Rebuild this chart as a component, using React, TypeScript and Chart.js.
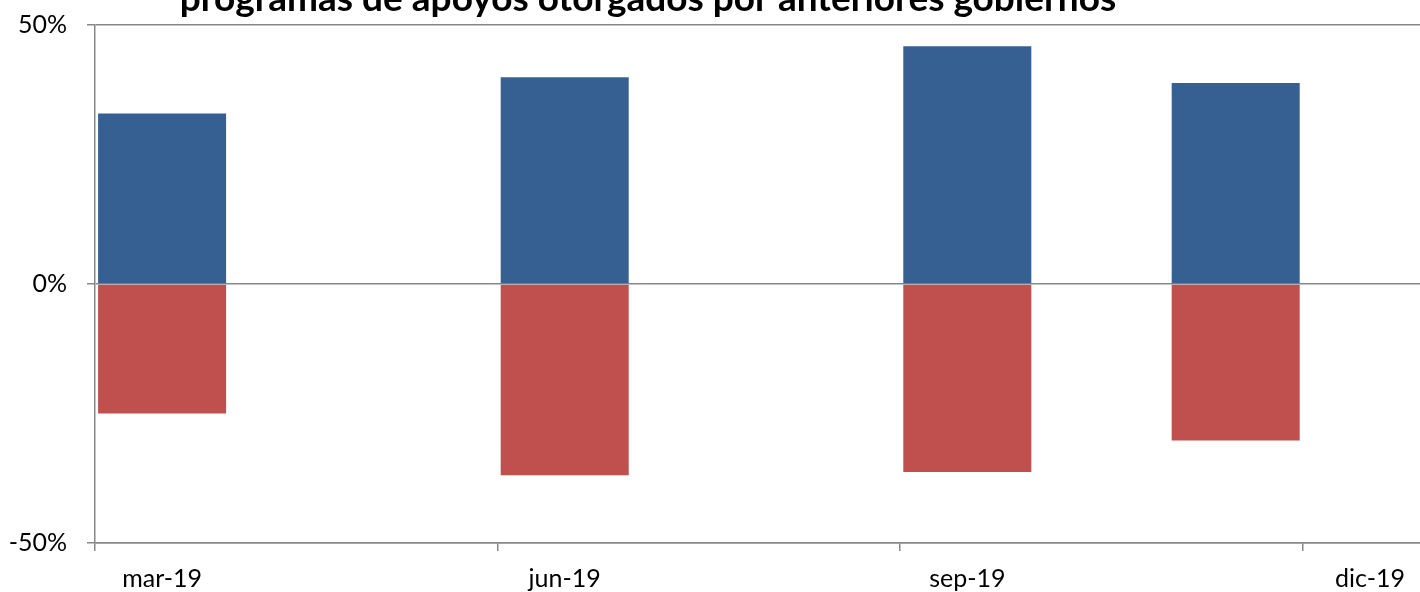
import React, { useEffect, useRef } from "react";
import { Chart, registerables } from "chart.js";

Chart.register(...registerables);

const TITLE = "programas de apoyos otorgados por anteriores gobiernos";
const MONTHS = ["mar-19", "abr-19", "may-19", "jun-19", "jul-19", "ago-19", "sep-19", "oct-19", "nov-19", "dic-19"];
const LABELED = ["mar-19", "jun-19", "sep-19", "dic-19"];
const POSITIVE = [32.9, null, null, 39.9, null, null, 45.9, null, 38.8, null];
const NEGATIVE = [-25.0, null, null, -36.9, null, null, -36.3, null, -30.2, null];
const Y_TICKS = [-50, 0, 50];

const FONT = "Lato, 'Liberation Sans', sans-serif";
const GRID = "#888888";

const titlePlugin = {
  id: "clippedTitle",
  afterDraw(chart: any) {
    const ctx = chart.ctx;
    ctx.save();
    ctx.font = `bold 37px ${FONT}`;
    ctx.fillStyle = "#000";
    ctx.textAlign = "center";
    ctx.textBaseline = "alphabetic";
    ctx.fillText(TITLE, 648, 11);
    ctx.restore();
  },
};

export default function App() {
  const ref = useRef<HTMLCanvasElement | null>(null);
  useEffect(() => {
    if (!ref.current) return;
    const chart = new Chart(ref.current, {
      type: "bar",
      data: {
        labels: MONTHS,
        datasets: [
          { label: "a", data: POSITIVE as any, backgroundColor: "#376092", barPercentage: 1, categoryPercentage: 0.954 },
          { label: "b", data: NEGATIVE as any, backgroundColor: "#C0504D", barPercentage: 1, categoryPercentage: 0.954 },
        ],
      },
      plugins: [titlePlugin],
      options: {
        responsive: false,
        animation: false,
        layout: { padding: { left: 0, right: 3, top: 25, bottom: 0 } },
        font: { family: FONT },
        plugins: {
          legend: { display: false },
          tooltip: { enabled: false },
          title: { display: false },
        },
        scales: {
          x: {
            stacked: true,
            offset: true,
            afterFit: (s: any) => { s.height = 49; s.paddingLeft = 0; s.paddingRight = 0; },
            grid: {
              offset: true,
              drawOnChartArea: false,
              drawTicks: true,
              tickLength: 8,
              lineWidth: 1.5,
              color: (ctx: any) => (ctx.index === 0 || ctx.index === 3 || ctx.index === 6 || ctx.index === 9 ? GRID : "rgba(0,0,0,0)"),
            },
            border: { display: true, color: GRID, width: 1.5 },
            ticks: {
              autoSkip: false,
              maxRotation: 0,
              padding: 13,
              color: "#000",
              font: { family: FONT, size: 25 },
              callback: function (this: any, v: any) {
                const l = MONTHS[v as number];
                return LABELED.includes(l) ? l : "";
              },
            },
          },
          y: {
            stacked: true,
            min: Y_TICKS[0],
            max: Y_TICKS[Y_TICKS.length - 1],
            afterFit: (s: any) => { s.width = 95; s.paddingTop = 0; s.paddingBottom = 0; },
            afterBuildTicks: (s: any) => { s.ticks = Y_TICKS.map((v) => ({ value: v })); },
            grid: { color: GRID, lineWidth: 1.5, tickLength: 8, drawTicks: true },
            border: { display: true, color: GRID, width: 1.5 },
            ticks: {
              padding: 20,
              color: "#000",
              font: { family: FONT, size: 25 },
              callback: (v: any) => v + "%",
            },
          },
        },
      },
    } as any);
    return () => chart.destroy();
  }, []);
  return (
    <div style={{ position: "fixed", left: 0, top: 0, width: 1420, height: 592, overflow: "hidden", background: "#fff" }}>
      <canvas ref={ref} width={1440} height={592} style={{ position: "absolute", left: 0, top: 0, display: "block" }} />
    </div>
  );
}
